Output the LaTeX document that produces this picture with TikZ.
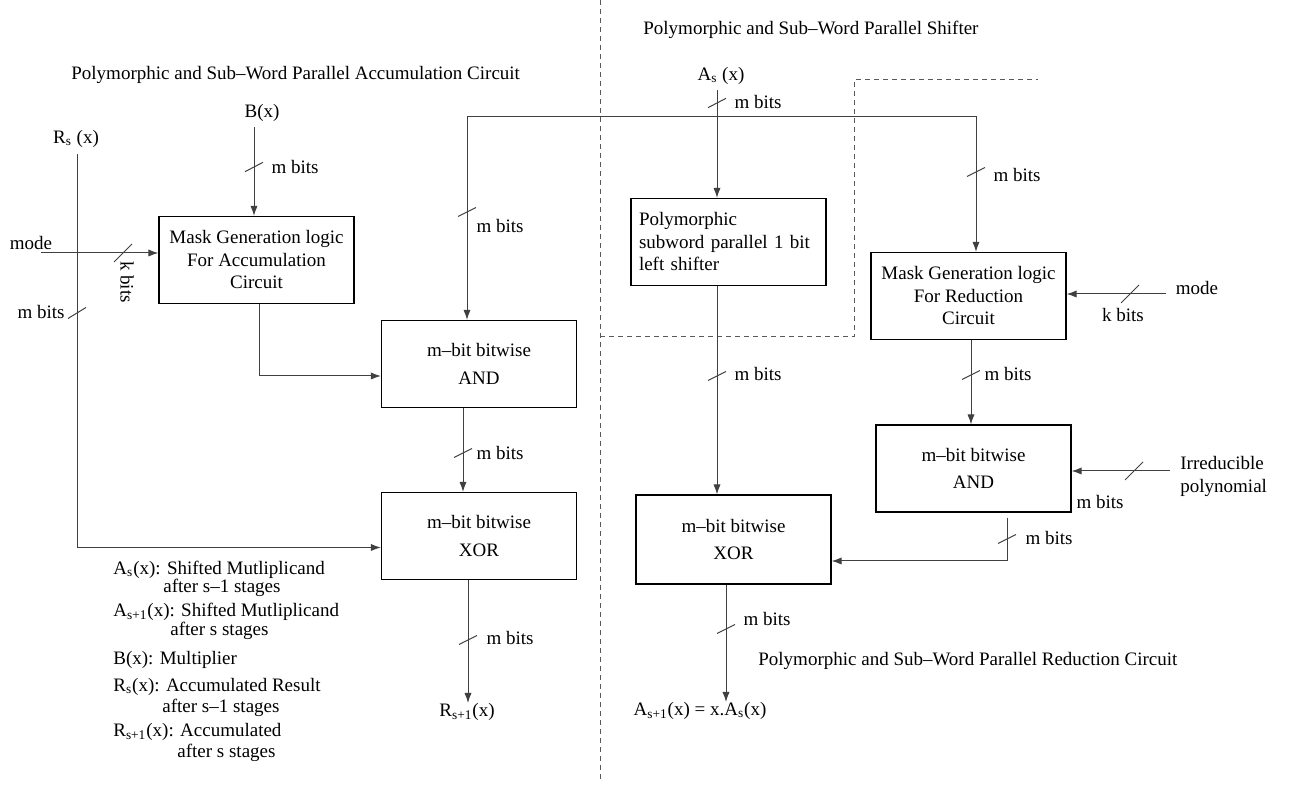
\documentclass[tikz,border=0pt]{standalone}
\usepackage{fontspec}
\setmainfont{Liberation Serif}
\usetikzlibrary{arrows.meta,calc}
\begin{document}
\begin{tikzpicture}[x=.5pt,y=-.5pt,font=\fontsize{9.5}{11.25}\selectfont,
  every node/.style={inner sep=0pt},
  blk/.style={draw,line width=.6pt,minimum width=97.5pt,minimum height=43.5pt,inner sep=2pt,align=center},
  wire/.style={draw=black!75,line width=.5pt},
  arr/.style={wire,-{Latex[length=5pt,width=3.6pt]}},
  part/.style={draw=black!65,line width=.5pt,dash pattern=on 2.5pt off 2pt}]
\useasboundingbox (0,0) rectangle (1298,785);
% partition of the three circuits
\draw[part] (600,0)--(600,782);
\draw[part] (600,337)--(854,337)--(854,80)--(1038,80);
\node[anchor=west] (ttlacc) at (71,75) {Polymorphic and Sub--Word Parallel Accumulation Circuit};
\node[anchor=west] (ttlshf) at (643,30) {Polymorphic and Sub--Word Parallel Shifter};
\node[anchor=west] (ttlred) at (758,661) {Polymorphic and Sub--Word Parallel Reduction Circuit};
% blocks
\node[blk] (mskA) at (256.5,260) {Mask Generation logic\\For Accumulation\\Circuit};
\node[blk] (andA) at (479,364) {m--bit bitwise\\[2.5pt]AND};
\node[blk] (xorA) at (479,536) {m--bit bitwise\\[2.5pt]XOR};
\node[blk,text width=89.5pt,inner xsep=4pt,align=left] (shf) at (728.5,242) {Polymorphic\\subword parallel 1 bit\\left shifter};
\node[blk] (mskR) at (968.5,296) {Mask Generation logic\\For Reduction\\Circuit};
\node[blk] (andR) at (973.5,468.5) {m--bit bitwise\\[2.5pt]AND};
\node[blk,minimum height=44.5pt] (xorR) at (733.5,539.5) {m--bit bitwise\\[2.5pt]XOR};
% inputs and outputs
\node (bx) at (262,113) {B(x)};
\node (rs) at (76,139) {R\textsubscript{s} (x)};
\node (modeL) at (31,243) {mode};
\node (as) at (721,76) {A\textsubscript{s} (x)};
\node (modeR) at (1197,288) {mode};
\node[anchor=west,align=left] (irr) at (1180,476.5) {Irreducible\\polynomial};
\node (rout) at (467,712) {R\textsubscript{s+1}(x)};
\node (aout) at (700,711) {A\textsubscript{s+1}(x) = x.A\textsubscript{s}(x)};
\coordinate (bin) at (254,127);
\coordinate (rsin) at (77,154);
\coordinate (modeAin) at (41,253);
\coordinate (asin) at (717,90);
\coordinate (bus) at (717,117);
\coordinate (modeRin) at (1166,294);
\coordinate (irrin) at (1170,471);
% connectors
\draw[arr] (bin) -- (bin |- mskA.north);
\draw[arr] (modeAin) -- (modeAin -| mskA.west);
\draw[arr] (rsin) |- ($(xorA.west)+(0,11.5)$);
\draw[arr] ($(mskA.south)+(2.5,0)$) |- ($(andA.west)+(0,12)$);
\draw[arr] ($(andA.south)+(-16,0)$) coordinate (aa1) -- (aa1 |- xorA.north);
\draw[arr] ($(xorA.south)+(-11,0)$) coordinate (xa1) -- (xa1 |- rout.north);
\draw[arr] (asin) -- (asin |- shf.north);
\draw[arr] (bus) -| ($(andA.north)+(-12,0)$);
\draw[arr] (bus) -| ($(mskR.north)+(7.5,0)$);
\draw[arr] ($(shf.south)+(-11.5,0)$) coordinate (sh1) -- (sh1 |- xorR.north);
\draw[arr] (modeRin) -- (modeRin -| mskR.east);
\draw[arr] ($(mskR.south)+(2.5,0)$) coordinate (mr1) -- (mr1 |- andR.north);
\draw[arr] (irrin) -- (irrin -| andR.east);
\draw[arr] ($(andR.south)+(33.5,5)$) |- ($(xorR.east)+(0,21.5)$);
\draw[arr] ($(xorR.south)+(-7.5,0)$) coordinate (xr1) -- (xr1 |- aout.north);
% bus width marks
\foreach \x/\y/\dx/\dy in {254/167/9/4.7,77/313/9/5.5,123/253/9/9,467/212/9/4.5,463/453/9/4.5,468/640/9/4.5,717/103/9/4.7,976/172/9/4.5,1130/294/9/9,717/376/9/4.5,971/375/9/4.5,1134/471/9/9,1007/539/9/4.5,726/629/9/4.5}{\draw[wire] (\x,\y)+(-\dx,\dy)--+(\dx,-\dy);}
\foreach \x/\y [count=\i] in {295/167,41/312,500/226,500/453,510/638,758/102,1017/175,758/374,1008/374,1100/502,1049/538,767/619}{\node (mbits\i) at (\x,\y) {m bits};}
\node[rotate=-90] (kbitsL) at (127,282) {k bits};
\node (kbitsR) at (1123,315) {k bits};
% legend
\foreach \x/\y/\t [count=\i] in {113/570/{A\textsubscript{s}(x): Shifted Mutliplicand},163/588/{after s--1 stages},113/612/{A\textsubscript{s+1}(x): Shifted Mutliplicand},170/631/{after s stages},113/660/{B(x): Multiplier},113/687/{R\textsubscript{s}(x): Accumulated Result},162/708/{after s--1 stages},113/732/{R\textsubscript{s+1}(x): Accumulated},177/753/{after s stages}}{\node[anchor=west] (key\i) at (\x,\y) {\t};}
\end{tikzpicture}
\end{document}
